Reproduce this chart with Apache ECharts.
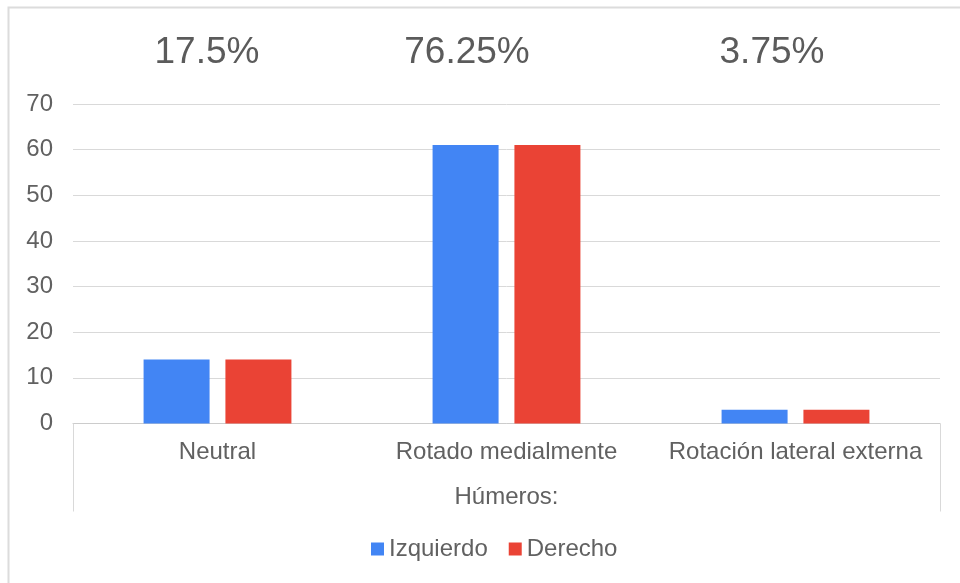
<!DOCTYPE html>
<html>
<head>
<meta charset="utf-8">
<script src="https://cdn.jsdelivr.net/npm/echarts@6/dist/echarts.min.js"></script>
<style>
    html, body { margin: 0; padding: 0; background: #fff; }
    #chart { width: 960px; height: 583px; }
</style>
</head>
<body>
<div id="chart"></div>
<script>
// categories and values
var categories = ['Neutral', 'Rotado medialmente', 'Rotación lateral externa'];
var izquierdo = [14, 61, 3];
var derecho = [14, 61, 3];
var pctLabels = ['17.5%', '76.25%', '3.75%'];
var pctLeft = [207, 467, 772];

var dom = document.getElementById('chart');
var myChart = echarts.init(dom);

// percentage headings above each group
var titles = pctLabels.map(function (t, i) {
    return {
        text: t,
        left: pctLeft[i] - 5,
        top: 29,
        textAlign: 'center',
        textStyle: {
            fontFamily: 'Liberation Sans',
            fontSize: 37,
            fontWeight: 'normal',
            color: '#5b5b5b'
        }
    };
});

var option = {
    animation: false,
    title: titles,
    graphic: [{
        type: 'rect',
        shape: { x: 8.5, y: 7.5, width: 1000, height: 1000 },
        style: { fill: 'none', stroke: '#dcdcdc', lineWidth: 2 },
        silent: true
    }],
    legend: {
        data: ['Izquierdo', 'Derecho'],
        left: 366,
        top: 532,
        itemWidth: 13,
        itemHeight: 13,
        itemGap: 21,
        icon: 'rect',
        textStyle: {
            fontFamily: 'Liberation Sans',
            fontSize: 24,
            color: '#616161'
        }
    },
    grid: {
        left: 73,
        right: 20,
        top: 104,
        bottom: 159.5
    },
    xAxis: [{
        type: 'category',
        data: categories,
        name: 'Húmeros:',
        nameLocation: 'middle',
        nameGap: 62,
        nameTextStyle: {
            fontFamily: 'Liberation Sans',
            fontSize: 24,
            color: '#616161',
            verticalAlign: 'top'
        },
        axisLine: { lineStyle: { color: '#cccccc', width: 1 } },
        axisTick: { show: false },
        axisLabel: {
            fontFamily: 'Liberation Sans',
            fontSize: 24,
            color: '#616161',
            margin: 17,
            interval: 0
        }
    }, {
        // bracket lines at both ends of the category axis
        type: 'value',
        min: 0,
        max: 1,
        interval: 1,
        position: 'bottom',
        axisLine: { show: false },
        axisLabel: { show: false },
        splitLine: { show: false },
        axisTick: { show: true, length: 88, lineStyle: { color: '#d9d9d9', width: 1 } }
    }],
    yAxis: {
        type: 'value',
        min: 0,
        max: 70,
        interval: 10,
        axisLine: { show: false },
        axisTick: { show: false },
        splitLine: { lineStyle: { color: '#d9d9d9', width: 1 } },
        axisLabel: {
            fontFamily: 'Liberation Sans',
            fontSize: 24,
            color: '#616161',
            margin: 20
        }
    },
    series: [{
        name: 'Izquierdo',
        type: 'bar',
        xAxisIndex: 0,
        data: izquierdo,
        barWidth: 66,
        barGap: '24%',
        itemStyle: { color: '#4285f4' }
    }, {
        name: 'Derecho',
        type: 'bar',
        xAxisIndex: 0,
        data: derecho,
        barWidth: 66,
        barGap: '24%',
        itemStyle: { color: '#ea4335' }
    }]
};

if (option && typeof option === 'object') {
    myChart.setOption(option);
}
</script>
</body>
</html>
